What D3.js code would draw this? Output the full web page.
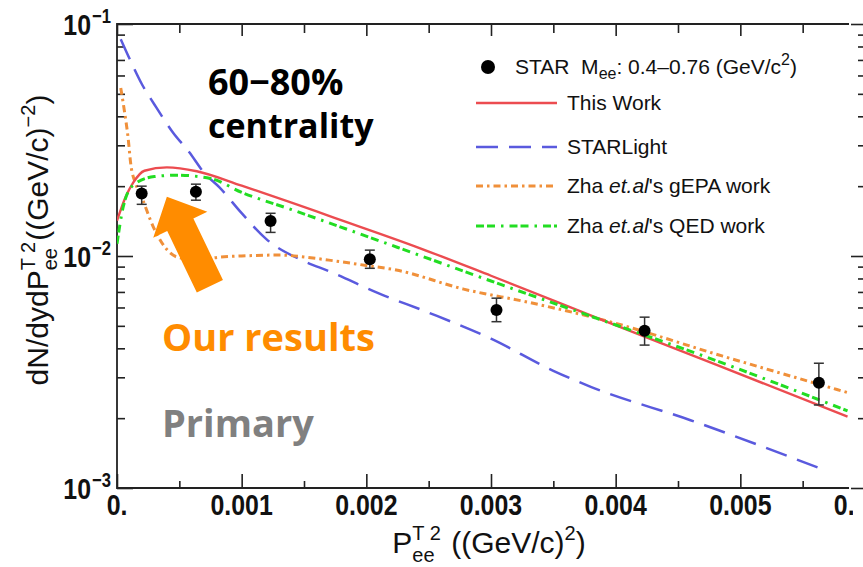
<!DOCTYPE html>
<html>
<head>
<meta charset="utf-8">
<script src="https://cdn.jsdelivr.net/npm/d3@7"></script>
<style>
  body { margin: 0; background: #fff; }
  svg { display: block; }
</style>
</head>
<body>
<div id="chart"></div>
<script>
// axis ticks
const xTicks = [0, 0.001, 0.002, 0.003, 0.004, 0.005, 0.006];
const xTickLabels = ["0.", "0.001", "0.002", "0.003", "0.004", "0.005", "0.006"];
const xMinorTicks = [0.0005, 0.0015, 0.0025, 0.0035, 0.0045, 0.0055];
const yDecades = [0.1, 0.01, 0.001];
const yExponents = ["\u22121", "\u22122", "\u22123"];

// STAR data, M_ee 0.4-0.76
const starX = [0.000198, 0.000633, 0.001232, 0.002028, 0.003044, 0.004232, 0.00563];
const starY = [0.0186, 0.0189, 0.01415, 0.00968, 0.00585, 0.00476, 0.00284];
const starLow = [0.0167, 0.0174, 0.01264, 0.00885, 0.00521, 0.00413, 0.00228];
const starHigh = [0.0200, 0.0204, 0.01528, 0.0106, 0.00658, 0.00545, 0.00345];

// This Work
const thisWorkX = [0, 0.00007, 0.00013, 0.00022, 0.0004, 0.00064, 0.001, 0.0014, 0.0017, 0.0024, 0.003, 0.0039, 0.0048, 0.00586];
const thisWorkY = [0.0142, 0.018, 0.0207, 0.0233, 0.0241, 0.0232, 0.0201, 0.0170, 0.0149, 0.01096, 0.00822, 0.00528, 0.00341, 0.00203];

// STARLight
const starlightX = [0.00003, 0.0001, 0.0002, 0.0003, 0.00045, 0.00058, 0.0007, 0.00082, 0.001, 0.0012, 0.0015, 0.0017, 0.0021, 0.0025, 0.003, 0.0035, 0.0038, 0.0046, 0.00563];
const starlightY = [0.086, 0.071, 0.055, 0.045, 0.034, 0.028, 0.0228, 0.0198, 0.0153, 0.0118, 0.0095, 0.0086, 0.0069, 0.0057, 0.0044, 0.0032, 0.00273, 0.00196, 0.00122];

// Zha et.al gEPA
const gepaX = [0.00003, 0.00006, 0.00009, 0.00011, 0.00015, 0.0002, 0.00029, 0.00038, 0.00048, 0.00064, 0.00083, 0.001, 0.0013, 0.0015, 0.0017, 0.002, 0.00224, 0.00278, 0.00331, 0.0039, 0.00486, 0.00588];
const gepaY = [0.053, 0.042, 0.032, 0.025, 0.0205, 0.0178, 0.0134, 0.011, 0.0099, 0.0096, 0.0099, 0.0100, 0.0101, 0.0099, 0.0096, 0.0091, 0.0087, 0.0072, 0.0063, 0.0053, 0.0037, 0.00256];

// Zha et.al QED
const qedX = [0, 0.00005, 0.00013, 0.0003, 0.00048, 0.00075, 0.001, 0.0014, 0.0017, 0.0024, 0.003, 0.0039, 0.0048, 0.00586];
const qedY = [0.0113, 0.0163, 0.0202, 0.0220, 0.0223, 0.0216, 0.0188, 0.01585, 0.0139, 0.01019, 0.0078, 0.00527, 0.00355, 0.00215];

const W = 863, H = 567;
const plotLeft = 117, plotTop = 24, plotBottom = 488, plotRight = 865, cutX = 849;

const tickFont = "'Liberation Sans', Arial, sans-serif";
const textFont = "'Liberation Sans', Arial, sans-serif";
const noteFont = "'Open Sans', 'Noto Sans', sans-serif";
const squeeze = 0.83; // tick labels use a condensed bold face

const svg = d3.select("#chart").append("svg")
    .attr("width", W)
    .attr("height", H);

const x = d3.scaleLinear().domain([0, 0.006]).range([plotLeft, plotRight]);
const y = d3.scaleLog().domain([0.001, 0.1]).range([plotBottom, plotTop]);

svg.append("clipPath").attr("id", "plotClip")
    .append("rect")
    .attr("x", plotLeft).attr("y", plotTop - 2)
    .attr("width", cutX - plotLeft).attr("height", plotBottom - plotTop + 4);

svg.append("clipPath").attr("id", "axisClip")
    .append("rect")
    .attr("x", 0).attr("y", 0)
    .attr("width", cutX).attr("height", H);

svg.append("clipPath").attr("id", "labelClip")
    .append("rect")
    .attr("x", 0).attr("y", 0)
    .attr("width", cutX + 4).attr("height", H);

const yMinor = y.ticks().filter(v => !yDecades.some(d => Math.abs(d - v) < 1e-12));

// ticks (all pointing inward)
function styleAxis(g) {
    g.select(".domain").remove();
    g.selectAll(".tick line").attr("stroke", "#222").attr("stroke-width", 1.6);
    g.selectAll(".tick text").remove();
}

const axes = svg.append("g").attr("clip-path", "url(#axisClip)");
axes.append("g").attr("transform", `translate(0,${plotBottom})`)
    .call(d3.axisBottom(x).tickValues(xTicks).tickSizeInner(-14)).call(styleAxis);
axes.append("g").attr("transform", `translate(0,${plotBottom})`)
    .call(d3.axisBottom(x).tickValues(xMinorTicks).tickSizeInner(-7)).call(styleAxis);
axes.append("g").attr("transform", `translate(0,${plotTop})`)
    .call(d3.axisTop(x).tickValues(xTicks).tickSizeInner(-12)).call(styleAxis);
axes.append("g").attr("transform", `translate(0,${plotTop})`)
    .call(d3.axisTop(x).tickValues(xMinorTicks).tickSizeInner(-9)).call(styleAxis);

svg.append("g").attr("transform", `translate(${plotLeft},0)`)
    .call(d3.axisLeft(y).tickValues(yDecades).tickSizeInner(-16)).call(styleAxis);
svg.append("g").attr("transform", `translate(${plotLeft},0)`)
    .call(d3.axisLeft(y).tickValues(yMinor).tickSizeInner(-8)).call(styleAxis);
svg.append("g").attr("transform", `translate(${plotRight},0)`)
    .call(d3.axisRight(y).tickValues(yDecades).tickSizeInner(-14)).call(styleAxis);
svg.append("g").attr("transform", `translate(${plotRight},0)`)
    .call(d3.axisRight(y).tickValues(yMinor).tickSizeInner(-7)).call(styleAxis);

// frame
svg.append("path")
    .attr("d", `M${cutX},${plotTop}H${plotLeft}V${plotBottom}H${cutX}`)
    .attr("fill", "none").attr("stroke", "#222").attr("stroke-width", 1.8);

// x tick labels
svg.append("g").attr("clip-path", "url(#labelClip)")
    .selectAll("text").data(xTicks).enter().append("text")
    .attr("transform", d => `translate(${x(d)},515) scale(${squeeze},1)`)
    .attr("text-anchor", "middle")
    .attr("font-family", tickFont).attr("font-weight", "bold").attr("font-size", 30)
    .attr("fill", "#111")
    .text((d, i) => xTickLabels[i]);

// y tick labels 10^n
const yLab = svg.append("g");
yDecades.forEach((d, i) => {
    yLab.append("text")
        .attr("transform", `translate(91,${y(d) + 11}) scale(${squeeze},1)`)
        .attr("text-anchor", "end")
        .attr("font-family", tickFont).attr("font-weight", "bold").attr("font-size", 30)
        .attr("fill", "#111").text("10");
    yLab.append("text")
        .attr("transform", `translate(92,${y(d) - 1}) scale(${squeeze},1)`)
        .attr("font-family", tickFont).attr("font-weight", "bold").attr("font-size", 20)
        .attr("fill", "#111").text(yExponents[i]);
});

// curves
const plot = svg.append("g").attr("clip-path", "url(#plotClip)");
const line = d3.line().x(d => x(d[0])).y(d => y(d[1])).curve(d3.curveMonotoneX);

const curves = [
    { xs: starlightX, ys: starlightY, color: "#5a5ade", dash: "22,11", w: 2.5 },
    { xs: gepaX, ys: gepaY, color: "#f0903a", dash: "7,4,2.5,4", w: 3 },
    { xs: thisWorkX, ys: thisWorkY, color: "#ec4c50", dash: null, w: 2.4 },
    { xs: qedX, ys: qedY, color: "#22dd22", dash: "8,3,8,6,2.5,6", w: 3 }
];

curves.forEach(c => {
    plot.append("path")
        .datum(c.xs.map((v, i) => [v, c.ys[i]]))
        .attr("d", line)
        .attr("fill", "none")
        .attr("stroke", c.color)
        .attr("stroke-width", c.w)
        .attr("stroke-dasharray", c.dash);
});

// STAR points with error bars
const pts = plot.selectAll(".pt").data(starX).enter().append("g").attr("class", "pt");
pts.append("line")
    .attr("x1", d => x(d)).attr("x2", d => x(d))
    .attr("y1", (d, i) => y(starLow[i])).attr("y2", (d, i) => y(starHigh[i]))
    .attr("stroke", "#333").attr("stroke-width", 1.5);
[starLow, starHigh].forEach(arr => {
    pts.append("line")
        .attr("x1", d => x(d) - 5).attr("x2", d => x(d) + 5)
        .attr("y1", (d, i) => y(arr[i])).attr("y2", (d, i) => y(arr[i]))
        .attr("stroke", "#333").attr("stroke-width", 1.5);
});
pts.append("circle")
    .attr("cx", d => x(d)).attr("cy", (d, i) => y(starY[i]))
    .attr("r", 6).attr("fill", "#000");

// legend
const legend = svg.append("g").attr("font-family", textFont).attr("font-size", 21).attr("fill", "#111");
legend.append("circle").attr("cx", 488).attr("cy", 67).attr("r", 7).attr("fill", "#000");
const starText = legend.append("text").attr("x", 515).attr("y", 74).style("white-space", "pre");
starText.append("tspan").text("STAR  M");
starText.append("tspan").attr("font-size", 16).attr("dy", 5).text("ee");
starText.append("tspan").attr("dy", -5).text(": 0.4\u20130.76 (GeV/c");
starText.append("tspan").attr("font-size", 16).attr("dy", -9).text("2");
starText.append("tspan").attr("dy", 9).text(")");

const legendRows = [
    { c: curves[2], y: 103, label: ["This Work"] },
    { c: curves[0], y: 147, label: ["STARLight"] },
    { c: curves[1], y: 186, label: ["Zha ", "et.al", "'s gEPA work"] },
    { c: curves[3], y: 226, label: ["Zha ", "et.al", "'s QED work"] }
];
legendRows.forEach(r => {
    legend.append("line")
        .attr("x1", 476).attr("x2", 557).attr("y1", r.y).attr("y2", r.y)
        .attr("stroke", r.c.color).attr("stroke-width", r.c.w)
        .attr("stroke-dasharray", r.c.dash);
    const t = legend.append("text").attr("x", 567).attr("y", r.y + 7).style("white-space", "pre");
    r.label.forEach((s, k) => {
        t.append("tspan").attr("font-style", k === 1 ? "italic" : null).text(s);
    });
});

// axis titles built from pieces so the stacked super/subscripts line up
function titleParts(g, parts) {
    let pos = 0;
    parts.forEach(p => {
        const el = g.append("text")
            .attr("x", pos).attr("y", p.dy || 0)
            .attr("font-family", textFont).attr("font-size", p.size)
            .attr("fill", "#111").style("white-space", "pre")
            .text(p.t);
        let w = el.node().getComputedTextLength();
        if (p.sub) {
            const el2 = g.append("text")
                .attr("x", pos).attr("y", p.sub.dy)
                .attr("font-family", textFont).attr("font-size", p.sub.size)
                .attr("fill", "#111").text(p.sub.t);
            w = Math.max(w, el2.node().getComputedTextLength());
        }
        pos += w + (p.gap || 0);
    });
    return pos;
}

const xTitle = svg.append("g");
const xLen = titleParts(xTitle, [
    { t: "P", size: 30 },
    { t: "T 2", size: 20, dy: -13, sub: { t: "ee", size: 20, dy: 9 }, gap: 2 },
    { t: " ((GeV/c)", size: 30 },
    { t: "2", size: 20, dy: -13 },
    { t: ")", size: 30 }
]);
xTitle.attr("transform", `translate(${489 - xLen / 2},553)`);

const yTitle = svg.append("g");
const yLen = titleParts(yTitle, [
    { t: "dN/dydP", size: 30 },
    { t: "T 2", size: 20, dy: -13, sub: { t: "ee", size: 20, dy: 9 }, gap: 1 },
    { t: "((GeV/c)", size: 30 },
    { t: "\u22122", size: 20, dy: -13 },
    { t: ")", size: 30 }
]);
yTitle.attr("transform", `translate(48,${240 + yLen / 2}) rotate(-90)`);

// annotations
const notes = svg.append("g").attr("font-family", noteFont).attr("font-weight", "bold");
notes.append("text").attr("x", 208).attr("y", 95).attr("font-size", 36).attr("fill", "#000").text("60\u221280%");
notes.append("text").attr("x", 208).attr("y", 138).attr("font-size", 34).attr("fill", "#000").text("centrality");
notes.append("text").attr("x", 162).attr("y", 351).attr("font-size", 38).attr("fill", "#ff8c00").text("Our results");
notes.append("text").attr("x", 162).attr("y", 437).attr("font-size", 38).attr("fill", "#808080").text("Primary");

// arrow pointing at the model curves
const arrowFrom = [0.000745, 0.0074], arrowTo = [0.0004, 0.018];
const ax0 = x(arrowFrom[0]), ay0 = y(arrowFrom[1]);
const ax1 = x(arrowTo[0]), ay1 = y(arrowTo[1]);
const alen = Math.hypot(ax1 - ax0, ay1 - ay0);
const ux = (ax1 - ax0) / alen, uy = (ay1 - ay0) / alen;
const nx = -uy, ny = ux;
const shaftW = 14.5, headW = 30, headL = 31;
const bx = ax1 - ux * headL, by = ay1 - uy * headL;
const arrowPts = [
    [ax0 + nx * shaftW, ay0 + ny * shaftW],
    [bx + nx * shaftW, by + ny * shaftW],
    [bx + nx * headW, by + ny * headW],
    [ax1, ay1],
    [bx - nx * headW, by - ny * headW],
    [bx - nx * shaftW, by - ny * shaftW],
    [ax0 - nx * shaftW, ay0 - ny * shaftW]
];
svg.append("polygon")
    .attr("points", arrowPts.map(p => p.join(",")).join(" "))
    .attr("fill", "#ff8c00");
</script>
</body>
</html>
